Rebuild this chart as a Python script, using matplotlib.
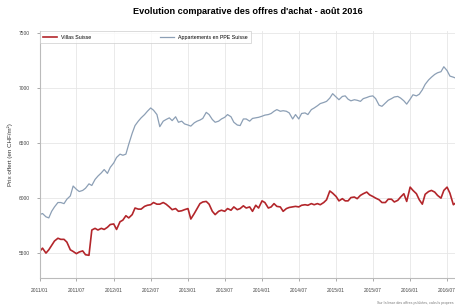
import matplotlib
matplotlib.use("Agg")
import matplotlib.pyplot as plt
import matplotlib.dates as mdates
import pandas as pd

# half-monthly sample dates, Jan 2011 - Aug 2016
dates = pd.date_range("2011-01-01", periods=136, freq="SMS")

villas = [
    5515, 5545, 5500, 5530, 5570, 5610, 5635, 5625, 5625, 5600,
    5530, 5515, 5495, 5510, 5520, 5485, 5480, 5710, 5725, 5710,
    5725, 5715, 5735, 5760, 5765, 5715, 5785, 5800, 5840, 5820,
    5850, 5910, 5900, 5900, 5925, 5935, 5940, 5960, 5945, 5945,
    5960, 5945, 5920, 5895, 5905, 5880, 5885, 5895, 5905, 5810,
    5860, 5905, 5950, 5965, 5970, 5945, 5880, 5850, 5880, 5890,
    5880, 5905, 5890, 5920, 5895, 5905, 5930, 5910, 5920, 5880,
    5935, 5910, 5975, 5960, 5910, 5920, 5950, 5925, 5920, 5880,
    5905, 5915, 5920, 5925, 5920, 5935, 5940, 5935, 5950, 5940,
    5950, 5940, 5960, 5985, 6065, 6045, 6015, 5975, 5995, 5975,
    5975, 6005, 6010, 5995, 6025, 6040, 6055, 6030, 6015, 6000,
    5985, 5960, 5960, 5990, 5990, 5965, 5980, 6010, 6040, 5970,
    6100, 6070, 6040, 5985, 5945, 6035, 6060, 6070, 6055, 6025,
    6000, 6070, 6100, 6045, 5940, 5960,
]

appartements = [
    5850, 5860, 5830, 5820, 5880, 5920, 5960, 5960, 5950, 5990,
    6020, 6110, 6080, 6060, 6070, 6090, 6130, 6115, 6170, 6200,
    6230, 6260, 6225, 6280, 6320, 6370, 6400, 6390, 6400, 6490,
    6590, 6660, 6700, 6730, 6760, 6790, 6820, 6800, 6760, 6650,
    6700, 6715, 6730, 6705, 6740, 6690, 6700, 6675, 6665, 6655,
    6685, 6700, 6710, 6725, 6780, 6760, 6715, 6690, 6700, 6720,
    6735, 6760, 6740, 6690, 6665, 6660, 6720, 6720, 6700, 6725,
    6730, 6735, 6745, 6755, 6760, 6770, 6790, 6805, 6790, 6795,
    6790, 6775, 6720, 6760, 6720, 6770, 6775, 6760, 6805, 6820,
    6840, 6860, 6870, 6880, 6910, 6950, 6920, 6895, 6925, 6930,
    6900, 6885, 6895, 6890, 6880, 6905, 6915, 6925, 6930, 6905,
    6845, 6835, 6865, 6890, 6905, 6920, 6925, 6910, 6885, 6855,
    6900, 6940, 6930, 6945, 6985, 7035, 7075, 7100, 7125, 7140,
    7150, 7195, 7160, 7110, 7100, 7090,
]

y_ticks = [5500, 6000, 6500, 7000, 7500]

plt.rcParams["font.family"] = ["Liberation Sans", "DejaVu Sans"]

fig = plt.figure(figsize=(4.56, 3.07), dpi=100)
ax = fig.add_axes([0.087, 0.095, 0.913, 0.804])

ax.plot(dates, villas, color="#b3262b", lw=1.2, label="Villas Suisse")
ax.plot(dates, appartements, color="#8c9fb5", lw=0.9,
        label="Appartements en PPE Suisse")

ax.set_xlim(pd.Timestamp("2011-01-01"), pd.Timestamp("2016-08-14"))
ax.set_ylim(5275, 7520)
ax.set_yticks(y_ticks)
ax.xaxis.set_major_locator(mdates.MonthLocator(bymonth=[1, 7]))
ax.xaxis.set_major_formatter(mdates.DateFormatter("%Y/%m"))
ax.tick_params(labelsize=3.5, colors="#888888", labelcolor="#444444",
               length=2, width=0.5, pad=5)

ax.grid(True, color="#e6e6e6", lw=0.6)
ax.set_axisbelow(True)
for side in ("top", "right"):
    ax.spines[side].set_visible(False)
for side in ("left", "bottom"):
    ax.spines[side].set_color("#bbbbbb")
    ax.spines[side].set_linewidth(0.8)

ax.set_ylabel("Prix offert (en CHF/m²)", fontsize=4.5, color="#333333",
              labelpad=4)
ax.set_title("Evolution comparative des offres d'achat - août 2016",
             fontsize=6.6, fontweight="bold", pad=12)

leg = ax.legend(loc="upper left", bbox_to_anchor=(0, 1), borderaxespad=0,
                ncol=2, fontsize=3.8, columnspacing=13, handlelength=2.6,
                frameon=True, fancybox=False, borderpad=0.7)
leg.get_frame().set_edgecolor("#cccccc")
leg.get_frame().set_linewidth(0.6)

fig.text(0.995, 0.008, "Sur la base des offres publiées, calculs propres",
         fontsize=2.6, color="#777777", ha="right", va="bottom")

fig.savefig("out.png", dpi=100)
